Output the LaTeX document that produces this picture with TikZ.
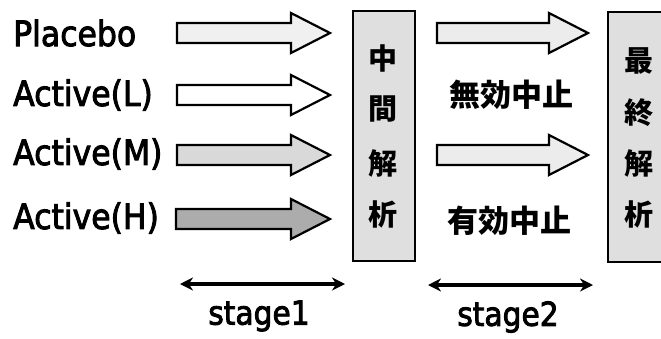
\documentclass[tikz,border=0pt]{standalone}
\usepackage{fontspec}
\setmainfont{DejaVu Sans}[FakeStretch=0.9,FakeBold=2.6]
\newfontfamily\cjk{Noto Sans CJK JP}
\usetikzlibrary{arrows.meta}
\tikzset{
  barrow/.style={draw=black,line width=2.2pt,line join=miter},
  lbl/.style={anchor=west,inner sep=0pt,font=\fontsize{35}{40}\selectfont},
  stlbl/.style={inner sep=0pt,font=\fontsize{33}{38}\selectfont},
  cjklbl/.style={inner sep=0pt,font=\cjk\bfseries\fontsize{31}{34}\selectfont},
  boxchar/.style={inner sep=0pt,font=\cjk\bfseries\fontsize{29}{32}\selectfont},
  anbox/.style={draw=black,line width=1.6pt,fill=gray!25,minimum width=62pt,minimum height=250pt,inner sep=0pt},
  span/.style={{Stealth[length=13pt,width=13pt]}-{Stealth[length=13pt,width=13pt]},line width=3.6pt},
}
% #1 tail x, #2 tip x, #3 centre y, #4 fill
\newcommand\blockarrow[4]{%
  \draw[barrow,fill=#4] (#1,#3-10) -- (#2-39,#3-10) -- (#2-39,#3-20) -- (#2,#3)
    -- (#2-39,#3+20) -- (#2-39,#3+10) -- (#1,#3+10) -- cycle;}
\begin{document}
\begin{tikzpicture}[x=1pt,y=-1pt]
\useasboundingbox (0,0) rectangle (661,338);
\clip (0,0) rectangle (661,338);
% labels
\node[lbl] (placebo) at (13,33) {Placebo};
\node[lbl] (actL) at (13,95) {Active(L)};
\node[lbl] (actM) at (13,154) {Active(M)};
\node[lbl] (actH) at (13,218) {Active(H)};
% stage 1 arrows
\blockarrow{177}{330}{33}{gray!12}
\blockarrow{177}{330}{95}{white}
\blockarrow{177}{330}{155}{gray!30}
\blockarrow{176}{330}{219}{gray!65}
% interim analysis box
\node[anbox] (b1) at (384,136) {};
\node[boxchar] (c11) at (383,58) {中};
\node[boxchar] (c12) at (383,109) {間};
\node[boxchar] (c13) at (383,163) {解};
\node[boxchar] (c14) at (383,214) {析};
% stage 2 arrows
\blockarrow{437}{588}{33}{gray!15}
\blockarrow{437}{588}{155}{gray!15}
\node[cjklbl] (futile) at (511,95) {無効中止};
\node[cjklbl] (effic) at (509,221) {有効中止};
% final analysis box
\node[anbox] (b2) at (639,137) {};
\node[boxchar] (c21) at (639,61) {最};
\node[boxchar] (c22) at (639,113) {終};
\node[boxchar] (c23) at (639,163) {解};
\node[boxchar] (c24) at (639,214) {析};
% stage spans
\coordinate (s1a) at (180,284);
\coordinate (s1b) at (345,284);
\coordinate (s2a) at (428,285);
\coordinate (s2b) at (593,285);
\draw[span] (s1a) -- (s1b);
\draw[span] (s2a) -- (s2b);
\node[stlbl] (st1) at (259,316) {stage1};
\node[stlbl] (st2) at (508,317) {stage2};
\end{tikzpicture}
\end{document}
